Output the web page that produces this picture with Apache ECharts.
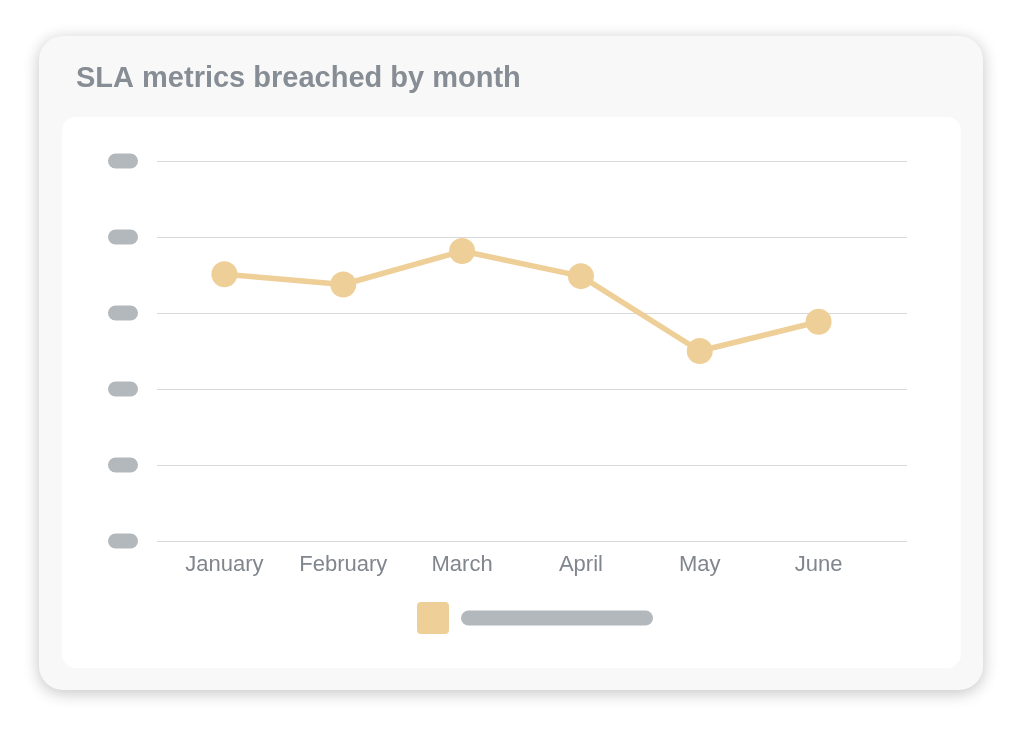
<!DOCTYPE html>
<html>
<head>
<meta charset="utf-8">
<script src="https://cdn.jsdelivr.net/npm/echarts@6/dist/echarts.min.js"></script>
<style>
  html, body { margin: 0; padding: 0; background: #ffffff; }
  #card { position: absolute; left: 39px; top: 36px; width: 944px; height: 654px;
          background: #f8f8f8; border-radius: 24px;
          box-shadow: 0 3px 16px rgba(0,0,0,0.24); }
  #panel { position: absolute; left: 62px; top: 117px; width: 899px; height: 551px;
           background: #ffffff; border-radius: 14px; }
  #chart { position: absolute; left: 0; top: 0; width: 1024px; height: 730px; }
</style>
</head>
<body>
<div id="card"></div>
<div id="panel"></div>
<div id="chart"></div>
<script>
const titleText = 'SLA metrics breached by month';
const categories = ['January', 'February', 'March', 'April', 'May', 'June'];
const seriesName = 'SLA metrics breached';
const breachedValues = [70.2, 67.5, 76.3, 69.7, 50.0, 57.7];
const yMin = 0, yMax = 100, yInterval = 20;

const chart = echarts.init(document.getElementById('chart'), null, { renderer: 'canvas' });
const font = '"Liberation Sans", Arial, Helvetica, sans-serif';
const lineColor = '#efcf98';
const pill = '#b3b8bc';

chart.setOption({
  backgroundColor: 'transparent',
  animation: false,
  title: {
    text: titleText,
    left: 76, top: 64, padding: 0,
    textStyle: { fontFamily: font, fontSize: 29, fontWeight: 'bold', color: '#878d94' }
  },
  legend: {
    left: 417, top: 602, padding: 0,
    itemWidth: 32, itemHeight: 32,
    icon: 'path://M4,0 H28 A4,4 0 0 1 32,4 V28 A4,4 0 0 1 28,32 H4 A4,4 0 0 1 0,28 V4 A4,4 0 0 1 4,0 Z',
    formatter: function () { return '{g| }{p| }'; },
    textStyle: {
      rich: {
        g: { width: 7, height: 15 },
        p: { width: 192, height: 15, backgroundColor: pill, borderRadius: 7.5 }
      }
    },
    data: [seriesName]
  },
  grid: [
    { left: 157, right: 117, top: 161, bottom: 189, containLabel: false },
    { left: 165, right: 146, top: 161, bottom: 189, containLabel: false }
  ],
  xAxis: [
    { gridIndex: 0, type: 'value', min: 0, max: 1, show: false },
    {
      gridIndex: 1, type: 'category', data: categories, boundaryGap: true,
      axisLine: { show: false }, axisTick: { show: false },
      axisLabel: { margin: 13, fontFamily: font, fontSize: 22, color: '#80868d' }
    }
  ],
  yAxis: [
    {
      gridIndex: 0, type: 'value', min: yMin, max: yMax, interval: yInterval,
      axisLine: { show: false }, axisTick: { show: false },
      splitLine: { lineStyle: { color: '#d9d9d9', width: 1 } },
      axisLabel: {
        margin: 19,
        formatter: function () { return '{p| }'; },
        rich: { p: { width: 30, height: 15, backgroundColor: pill, borderRadius: 7.5 } }
      }
    },
    { gridIndex: 1, type: 'value', min: yMin, max: yMax, show: false }
  ],
  series: [
    {
      name: seriesName, type: 'line',
      xAxisIndex: 1, yAxisIndex: 1,
      data: breachedValues,
      symbol: 'circle', symbolSize: 26,
      lineStyle: { color: lineColor, width: 5.5 },
      itemStyle: { color: lineColor },
      emphasis: { disabled: true }
    }
  ]
});
</script>
</body>
</html>
